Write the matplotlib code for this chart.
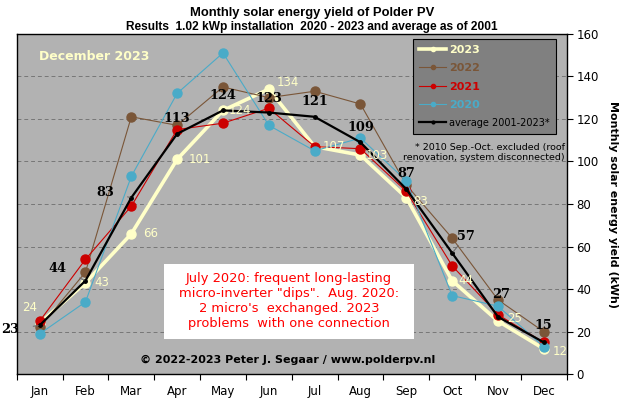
import matplotlib
matplotlib.use("Agg")
import matplotlib.pyplot as plt
from matplotlib.lines import Line2D
from matplotlib.patches import Rectangle

months = ["Jan", "Feb", "Mar", "Apr", "May", "Jun", "Jul", "Aug", "Sep", "Oct", "Nov", "Dec"]
y2023 = [24, 43, 66, 101, 124, 134, 107, 103, 83, 44, 25, 12]
y2022 = [22, 48, 121, 117, 135, 130, 133, 127, 89, 64, 35, 20]
y2021 = [25, 54, 79, 115, 118, 125, 107, 106, 86, 51, 28, 15]
y2020 = [19, 34, 93, 132, 151, 117, 105, 111, 91, 37, 32, 13]
avg = [23, 44, 83, 113, 124, 123, 121, 109, 87, 57, 27, 15]
yticks = [0, 20, 40, 60, 80, 100, 120, 140, 160]

C23 = "#ffffc8"
C22 = "#7a5638"
C21 = "#cc0000"
C20 = "#4aabc8"
BG = "#b2b2b2"

fig = plt.figure(figsize=(6.24, 3.99), dpi=100)
ax = fig.add_axes([0.0268, 0.0619, 0.8814, 0.8534])
ax.set_facecolor(BG)
x = list(range(12))

ax.plot(x, y2023, color=C23, lw=2.6, marker="o", ms=6.5, zorder=3)
ax.plot(x, y2022, color=C22, lw=0.8, marker="o", ms=6.5, zorder=4)
ax.plot(x, y2021, color=C21, lw=0.8, marker="o", ms=6.5, zorder=5)
ax.plot(x, y2020, color=C20, lw=0.8, marker="o", ms=6.5, zorder=6)
ax.plot(x, avg, color="black", lw=1.6, marker="o", ms=2.5, zorder=7)

ax.set_xlim(-0.5, 11.5)
ax.set_ylim(0, 160)
ax.set_xticks([i + 0.5 for i in range(-1, 12)])
ax.set_xticklabels([])
ax.set_xticks(x, minor=True)
ax.set_xticklabels(months, minor=True, fontsize=8.5)
ax.tick_params(axis="x", which="major", direction="out", length=4, width=0.8)
ax.tick_params(axis="x", which="minor", length=0, pad=8)
ax.yaxis.tick_right()
ax.set_yticks(yticks)
ax.set_yticklabels([str(v) for v in yticks], fontsize=8.5)
ax.tick_params(axis="y", direction="out", length=4, width=0.8, pad=3)
for v in yticks[1:-1]:
    ax.axhline(v, color="#777777", lw=0.7, ls=(0, (4, 3)), zorder=1)
for s in ax.spines.values():
    s.set_linewidth(1.0)

ax.yaxis.set_label_position("right")
ax.set_ylabel("Monthly solar energy yield (kWh)", rotation=270, fontsize=7.9,
              fontweight="bold", labelpad=14)

fig.text(0.5, 0.968, "Monthly solar energy yield of Polder PV", ha="center", va="center",
         fontsize=9.4, fontweight="bold", family="Liberation Sans")
fig.text(0.5, 0.932, "Results  1.02 kWp installation  2020 - 2023 and average as of 2001",
         ha="center", va="center", fontsize=8.6, fontweight="bold", family="Liberation Sans")

# 2023 labels (right of points)
off23 = [(-7, 11), (12, 0), (14, 0), (16, 0), (12, 0), (14, 5), (14, 0), (12, 0), (10, -3), (10, 0), (12, 2), (12, -2)]
for i, v in enumerate(y2023):
    ax.annotate(str(v), (i, v), xytext=off23[i], textcoords="offset points",
                ha="center", va="center", color=C23, fontsize=8.5, zorder=9)

# average labels
offa = [(-21, -3), (-20, 9), (-19, 4), (0, 11), (0, 11), (0, 10), (0, 11), (0, 11), (0, 11), (10, 12), (2, 16), (0, 12)]
for i, v in enumerate(avg):
    ap = None
    if i in (0, 1, 2, 9):
        ap = dict(arrowstyle="-", color="#666666", lw=0.7, shrinkA=8, shrinkB=1)
    ax.annotate(str(v), (i, v), xytext=offa[i], textcoords="offset points",
                ha="center", va="center", color="black", fontsize=9.3,
                fontweight="bold", family="DejaVu Serif", zorder=10, arrowprops=ap)

ax.text(0.04, 0.932, "December 2023", transform=ax.transAxes, color=C23,
        fontsize=9, fontweight="bold", ha="left", va="center")

ax.text(0.997, 0.651, "* 2010 Sep.-Oct. excluded (roof\nrenovation, system disconnected)",
        transform=ax.transAxes, fontsize=6.8, ha="right", va="center", linespacing=1.2)

ax.add_patch(Rectangle((0.268, 0.104), 0.454, 0.220, transform=ax.transAxes,
                       facecolor="white", edgecolor="none", zorder=11))
ax.text(0.495, 0.214, "July 2020: frequent long-lasting\nmicro-inverter \"dips\".  Aug. 2020:\n"
        "2 micro's  exchanged. 2023\nproblems  with one connection",
        transform=ax.transAxes, fontsize=9.4, color="red", ha="center", va="center",
        linespacing=1.2, zorder=12)

ax.text(0.492, 0.042, "\u00a9 2022-2023 Peter J. Segaar / www.polderpv.nl", transform=ax.transAxes,
        fontsize=8.0, fontweight="bold", ha="center", va="center", zorder=11)

handles = [
    Line2D([], [], color=C23, lw=2.6, marker="o", ms=3),
    Line2D([], [], color=C22, lw=0.8, marker="o", ms=3),
    Line2D([], [], color=C21, lw=0.8, marker="o", ms=3),
    Line2D([], [], color=C20, lw=0.8, marker="o", ms=3),
    Line2D([], [], color="black", lw=1.6, marker="o", ms=2),
]
labels = ["2023", "2022", "2021", "2020", "average 2001-2023*"]
leg = ax.legend(handles, labels, loc="upper right", bbox_to_anchor=(0.9805, 0.985),
                borderaxespad=0, frameon=True, fancybox=False, facecolor="#808080",
                edgecolor="black", framealpha=1, handlelength=2.4, handletextpad=0.3,
                labelspacing=0.75, borderpad=0.55, fontsize=8)
leg.get_frame().set_linewidth(0.8)
cols = [C23, C22, C21, C20, "black"]
for t, c in zip(leg.get_texts(), cols):
    t.set_color(c)
for t in leg.get_texts()[:4]:
    t.set_fontweight("bold")
    t.set_fontsize(8)
leg.get_texts()[4].set_fontsize(7)
leg.set_zorder(12)

fig.savefig("out.png", dpi=100)
